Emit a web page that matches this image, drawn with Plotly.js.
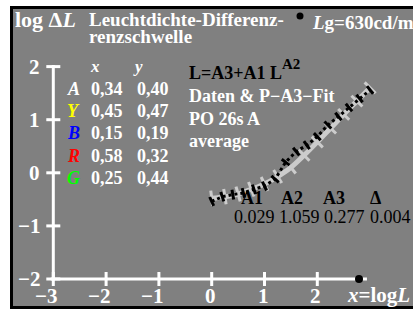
<!DOCTYPE html>
<html><head><meta charset="utf-8">
<script src="https://cdn.plot.ly/plotly-3.0.1.min.js"></script>
<style>html,body{margin:0;padding:0;background:#fff;}#c{width:413px;height:311px;}</style>
</head><body><div id="c"></div>
<script>
// ---- data ----
const fitX = [0, 0.25, 0.5, 0.75, 1.0, 1.25, 1.5, 1.75, 2.0, 2.25, 2.5, 2.75, 3.0];
const fitY = [-0.48, -0.45, -0.40, -0.31, -0.21, -0.07, 0.10, 0.33, 0.58, 0.84, 1.10, 1.35, 1.60];
const dataX = [0, 0.2, 0.4, 0.6, 0.8, 1.0, 1.2, 1.4, 1.6, 1.8, 2.0, 2.2, 2.4, 2.6, 2.8, 3.0];
const dataY = [-0.54, -0.45, -0.41, -0.38, -0.31, -0.25, -0.12, 0.20, 0.40, 0.52, 0.68, 0.90, 1.06, 1.23, 1.40, 1.56];
const xTicks = [-3, -2, -1, 0, 1, 2];
const xTickLabels = ['\u22123', '\u22122', '\u22121', '0', '1', '2'];
const yTicks = [-2, -1, 0, 1, 2];
const yTickLabels = ['\u22122', '\u22121', '0', '1', '2'];
const rowLabels = ['A', 'Y', 'B', 'R', 'G'];
const rowColors = ['#ffffff', '#ffff00', '#0000ff', '#ff0000', '#00ff00'];
const rowX = ['0,34', '0,45', '0,15', '0,58', '0,25'];
const rowY = ['0,40', '0,47', '0,19', '0,32', '0,44'];
const paramNames = ['A1', 'A2', 'A3', '\u0394'];
const paramVals = ['0.029', '1.059', '0.277', '0.004'];

// ---- geometry ----
const W = 413, H = 311;
const X0 = 211.7, SX = 52.8, Y0 = 172.8, SY = 53.1;
const px2x = p => (p - X0) / SX;
const py2y = p => (Y0 - p) / SY;
const FONT = 'Liberation Serif, Times New Roman, serif';
const GRAY = '#808080';

function perpAngles(xs, ys) {
  return xs.map((_, i) => {
    const a = Math.max(0, i - 1), b = Math.min(xs.length - 1, i + 1);
    const dx = (xs[b] - xs[a]) * SX, dy = (ys[b] - ys[a]) * SY;
    return -Math.atan2(dy, dx) * 180 / Math.PI;
  });
}

const traces = [];
// axes
traces.push({x: [-3.05, 2.94], y: [-2, -2], mode: 'lines', line: {color: '#fff', width: 3}, hoverinfo: 'skip'});
traces.push({x: [-3, -3], y: [-2.03, 2.03], mode: 'lines', line: {color: '#fff', width: 3}, hoverinfo: 'skip'});
traces.push({x: xTicks, y: xTicks.map(() => -2), mode: 'markers',
  marker: {symbol: 'line-ns', size: 10, line: {color: '#fff', width: 3}}, hoverinfo: 'skip'});
traces.push({x: yTicks.map(() => -3), y: yTicks, mode: 'markers',
  marker: {symbol: 'line-ew', size: 10, line: {color: '#fff', width: 3}}, hoverinfo: 'skip'});
// axis end dot
traces.push({x: [2.79], y: [-2], mode: 'markers', marker: {color: '#000', size: 8}, hoverinfo: 'skip'});
// top dot
traces.push({x: [px2x(300)], y: [py2y(16)], mode: 'markers', marker: {color: '#000', size: 7}, hoverinfo: 'skip'});
// fit curve
traces.push({x: fitX, y: fitY, mode: 'lines+markers', line: {color: '#cccccc', width: 5, shape: 'spline'},
  marker: {symbol: 'line-ns', size: 11, angle: perpAngles(fitX, fitY), line: {color: '#cccccc', width: 3}}, hoverinfo: 'skip'});
// data
traces.push({x: dataX, y: dataY, mode: 'lines+markers', line: {color: '#000', width: 3, dash: 'dot'},
  marker: {symbol: 'line-ns', size: 7, angle: perpAngles(dataX, dataY), line: {color: '#000', width: 3}}, hoverinfo: 'skip'});

const anns = [];
function ann(text, px, py, o) {
  o = o || {};
  anns.push({text: text, x: px2x(px), y: py2y(py), xref: 'x', yref: 'y', showarrow: false,
    xanchor: o.xa || 'left', yanchor: 'middle',
    font: {family: FONT, size: o.size || 17, color: o.color || '#fff'}});
}
// tick labels
xTicks.forEach((t, i) => ann('<b>' + xTickLabels[i] + '</b>', X0 + t * SX + 6, 296, {xa: 'right', size: 21}));
yTicks.forEach((t, i) => ann('<b>' + yTickLabels[i] + '</b>', 42, Y0 - t * SY, {xa: 'right', size: 21}));
// titles
ann('<b>log \u0394<i>L</i></b>', 13, 19.5, {size: 22});
ann('<b>Leuchtdichte-Differenz-</b>', 87, 19.5, {size: 19});
ann('<b>renzschwelle</b>', 87, 36.5, {size: 19});
ann('<b><i>L</i>g=630cd/m<sup>2</sup></b>', 310, 21, {size: 19});
ann('<b><i>x</i>=log<i>L</i></b>', 345, 295, {size: 21});
// table
ann('<b><i>x</i></b>', 95, 66, {xa: 'center'});
ann('<b><i>y</i></b>', 138, 66, {xa: 'center'});
const rowYpx = [89.3, 110.7, 132.7, 156, 177.7];
rowLabels.forEach((l, i) => {
  ann('<b><i>' + l + '</i></b>', 73, rowYpx[i], {xa: 'center', color: rowColors[i], size: 18});
  ann('<b>' + rowX[i] + '</b>', 89, rowYpx[i], {size: 18});
  ann('<b>' + rowY[i] + '</b>', 135, rowYpx[i], {size: 18});
});
// formula block
ann('<b>L=A3+A1 L</b>', 187, 72.5, {color: '#000', size: 18});
ann('<b>A2</b>', 280, 64, {color: '#000', size: 15});
ann('<b>Daten & P\u2212A3\u2212Fit</b>', 187, 96, {size: 18});
ann('<b>PO 26s A</b>', 187, 118.7, {size: 18});
ann('<b>average</b>', 187, 141, {size: 18});
const pnX = [252, 292, 334, 375];
const pvX = [254, 299, 344, 390];
paramNames.forEach((n, i) => {
  ann('<b>' + n + '</b>', pnX[i], 198, {xa: 'center', color: '#000', size: 18});
  ann(paramVals[i], pvX[i], 217, {xa: 'center', color: '#000', size: 18});
});

const layout = {
  width: W, height: H, autosize: false, showlegend: false,
  margin: {l: 0, r: 0, t: 0, b: 0, pad: 0},
  paper_bgcolor: '#ffffff', plot_bgcolor: '#ffffff',
  xaxis: {range: [px2x(0), px2x(W)], visible: false, fixedrange: true},
  yaxis: {range: [py2y(H), py2y(0)], visible: false, fixedrange: true},
  shapes: [{type: 'rect', xref: 'paper', yref: 'paper', layer: 'below',
    x0: 11.5 / W, x1: 1.05, y0: (H - 307.5) / H, y1: (H - 7.5) / H,
    fillcolor: GRAY, line: {color: '#000', width: 3}}],
  annotations: anns
};
Plotly.newPlot('c', traces, layout, {staticPlot: true, displayModeBar: false});
</script></body></html>
